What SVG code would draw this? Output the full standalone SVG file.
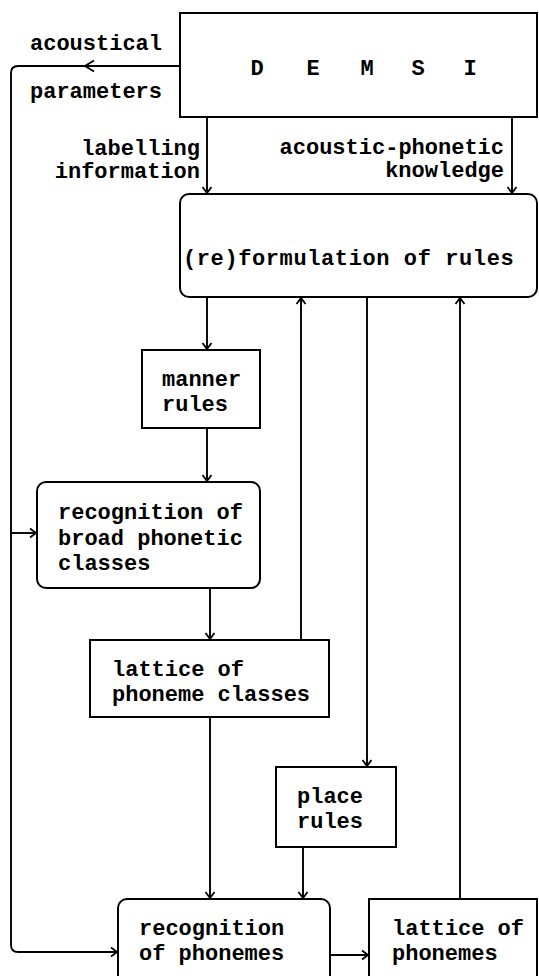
<svg xmlns="http://www.w3.org/2000/svg" width="539" height="976" viewBox="0 0 539 976">
<style>
.box{fill:#fff;stroke:#000;stroke-width:2}
.ln{fill:none;stroke:#000;stroke-width:1.9}
text{font-family:"Liberation Mono","DejaVu Sans Mono",monospace;font-weight:bold;font-size:22px;fill:#000}
.r{text-anchor:end}
.m{text-anchor:middle}
</style>
<defs>
<marker id="ah" markerUnits="userSpaceOnUse" markerWidth="12" markerHeight="12" refX="0" refY="0" viewBox="-8 -6 10 12" orient="auto">
<path d="M-6,-4.5 L0,0 L-6,4.5" fill="none" stroke="#000" stroke-width="1.8"/>
</marker>
</defs>
<rect width="539" height="976" fill="#fff"/>
<g id="connectors">
<path class="ln" d="M180,66 H18 Q11,66 11,73 V945 Q11,952 18,952 H117" marker-end="url(#ah)"/>
<path class="ln" d="M94,60.5 L85,66 L94,71.5"/>
<path class="ln" d="M11,533 H36" marker-end="url(#ah)"/>
<path class="ln" d="M207,117 V193" marker-end="url(#ah)"/>
<path class="ln" d="M512,117 V193" marker-end="url(#ah)"/>
<path class="ln" d="M207,297 V349" marker-end="url(#ah)"/>
<path class="ln" d="M207,428 V481" marker-end="url(#ah)"/>
<path class="ln" d="M210,588 V639" marker-end="url(#ah)"/>
<path class="ln" d="M301,640 V298" marker-end="url(#ah)"/>
<path class="ln" d="M367,297 V766" marker-end="url(#ah)"/>
<path class="ln" d="M210,717 V898" marker-end="url(#ah)"/>
<path class="ln" d="M303,847 V898" marker-end="url(#ah)"/>
<path class="ln" d="M460,899 V298" marker-end="url(#ah)"/>
<path class="ln" d="M330,955 H368" marker-end="url(#ah)"/>
</g>
<g id="labels">
<text x="30" y="50">acoustical</text>
<text x="30" y="98">parameters</text>
<text class="r" x="200" y="155">labelling</text>
<text class="r" x="200" y="178">information</text>
<text class="r" x="504" y="154">acoustic-phonetic</text>
<text class="r" x="504" y="177">knowledge</text>
</g>
<g id="demsi">
<rect class="box" x="180" y="13" width="357" height="104"/>
<text class="m" x="257" y="75">D</text>
<text class="m" x="313" y="75">E</text>
<text class="m" x="367" y="75">M</text>
<text class="m" x="418" y="75">S</text>
<text class="m" x="470" y="75">I</text>
</g>
<g id="reformulation">
<rect class="box" x="180" y="194" width="357" height="103" rx="9"/>
<text x="183" y="265" letter-spacing="0.6">(re)formulation of rules</text>
</g>
<g id="manner">
<rect class="box" x="142" y="350" width="118" height="78"/>
<text x="162" y="386">manner</text>
<text x="162" y="411">rules</text>
</g>
<g id="recog-broad">
<rect class="box" x="37" y="482" width="223" height="106" rx="9"/>
<text x="58" y="519">recognition of</text>
<text x="58" y="545">broad phonetic</text>
<text x="58" y="570">classes</text>
</g>
<g id="lattice-classes">
<rect class="box" x="90" y="640" width="239" height="77"/>
<text x="112" y="676">lattice of</text>
<text x="112" y="701">phoneme classes</text>
</g>
<g id="place">
<rect class="box" x="276" y="767" width="120" height="80"/>
<text x="297" y="803">place</text>
<text x="297" y="828">rules</text>
</g>
<g id="recog-phonemes">
<rect class="box" x="118" y="899" width="212" height="92" rx="9"/>
<text x="139" y="935">recognition</text>
<text x="139" y="960">of phonemes</text>
</g>
<g id="lattice-phonemes">
<rect class="box" x="369" y="899" width="168" height="92"/>
<text x="392" y="935">lattice of</text>
<text x="392" y="960">phonemes</text>
</g>
</svg>
